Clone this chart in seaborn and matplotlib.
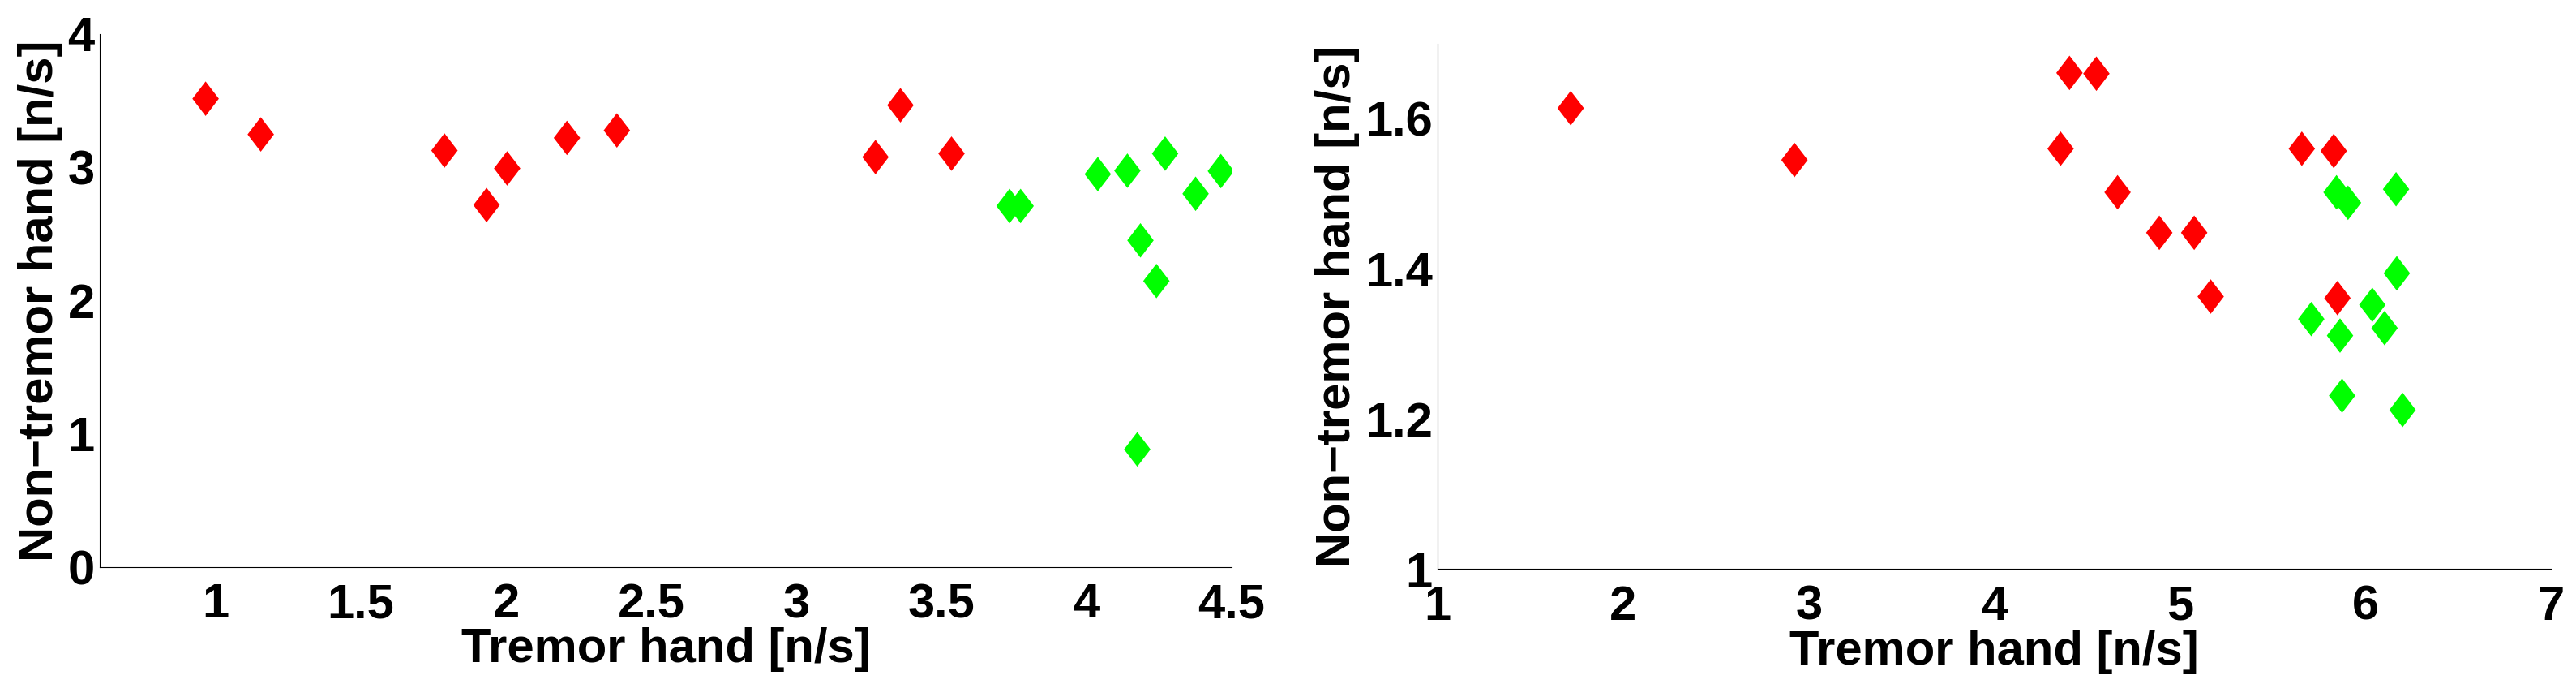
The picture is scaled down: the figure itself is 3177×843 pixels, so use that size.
import pandas as pd
import matplotlib
matplotlib.use('Agg')
import matplotlib.pyplot as plt
import seaborn as sns

# left panel data (tremor hand vs non-tremor hand)
left_red_x = [0.965, 1.155, 1.788, 1.933, 2.004, 2.21, 2.382, 3.273, 3.359, 3.535]
left_red_y = [3.515, 3.247, 3.126, 2.717, 2.992, 3.221, 3.277, 3.077, 3.466, 3.103]
left_green_x = [3.735, 3.773, 4.039, 4.141, 4.271, 4.376, 4.463, 4.186, 4.241, 4.175]
left_green_y = [2.71, 2.71, 2.949, 2.975, 3.103, 2.802, 2.972, 2.452, 2.147, 0.884]

# right panel data
right_red_x = [1.717, 2.923, 4.405, 4.55, 4.357, 4.664, 4.889, 5.077, 5.166, 5.657, 5.829, 5.849]
right_red_y = [1.614, 1.545, 1.661, 1.660, 1.560, 1.502, 1.448, 1.448, 1.363, 1.560, 1.557, 1.361]
right_green_x = [5.844, 5.906, 6.165, 6.169, 6.037, 5.708, 5.863, 6.103, 5.874, 6.2]
right_green_y = [1.502, 1.488, 1.506, 1.394, 1.352, 1.333, 1.311, 1.321, 1.231, 1.212]

left_xticks = [1, 1.5, 2, 2.5, 3, 3.5, 4, 4.5]
left_yticks = [0, 1, 2, 3, 4]
right_xticks = [1, 2, 3, 4, 5, 6, 7]
right_yticks = [1, 1.2, 1.4, 1.6]

xlabel = 'Tremor hand [n/s]'
ylabel = 'Non\u2212tremor hand [n/s]'


def make_df(rx, ry, gx, gy):
    return pd.DataFrame({
        'x': rx + gx,
        'y': ry + gy,
        'group': ['red'] * len(rx) + ['green'] * len(gx),
    })


sns.set_style('white')
plt.rcParams['font.family'] = ['Liberation Sans', 'DejaVu Sans']
plt.rcParams['font.weight'] = 'bold'
plt.rcParams['font.size'] = 43
plt.rcParams['text.color'] = 'black'
plt.rcParams['axes.labelcolor'] = 'black'

fig = plt.figure(figsize=(31.77, 8.43), dpi=100)
ax1 = fig.add_axes([0.0387, 0.1708, 0.4394, 0.7794])
ax2 = fig.add_axes([0.5581, 0.1681, 0.4322, 0.7681])

diamond = [(0, 1), (0.766, 0), (0, -1), (-0.766, 0)]
palette = {'red': '#ff0000', 'green': '#00ff00'}

panels = [
    (ax1, make_df(left_red_x, left_red_y, left_green_x, left_green_y),
     (0.6, 4.5), (0, 4), left_xticks, left_yticks),
    (ax2, make_df(right_red_x, right_red_y, right_green_x, right_green_y),
     (1, 7), (1, 1.7), right_xticks, right_yticks),
]

for ax, df, xlim, ylim, xt, yt in panels:
    sns.scatterplot(data=df, x='x', y='y', hue='group', palette=palette,
                    marker=diamond, s=940, linewidth=0, legend=False, ax=ax)
    ax.set_xlim(*xlim)
    ax.set_ylim(*ylim)
    ax.set_xticks(xt)
    ax.set_yticks(yt)
    ax.set_xticklabels(['%g' % v for v in xt])
    ax.set_yticklabels(['%g' % v for v in yt])
    for side in ['top', 'right']:
        ax.spines[side].set_visible(False)
    for side in ['left', 'bottom']:
        ax.spines[side].set_linewidth(0.8)
        ax.spines[side].set_color('black')
    ax.tick_params(axis='both', direction='in', length=9.4, width=0.8,
                   colors='black', labelsize=43)
    ax.tick_params(axis='x', pad=14)
    ax.tick_params(axis='y', pad=4.5)
    for lab in ax.get_xticklabels() + ax.get_yticklabels():
        lab.set_fontweight('bold')
    ax.set_xlabel(xlabel, fontsize=43, fontweight='bold', color='black', labelpad=0)
    ax.set_ylabel(ylabel, fontsize=43, fontweight='bold', color='black', labelpad=5)

fig.savefig('out.png', dpi=100)
